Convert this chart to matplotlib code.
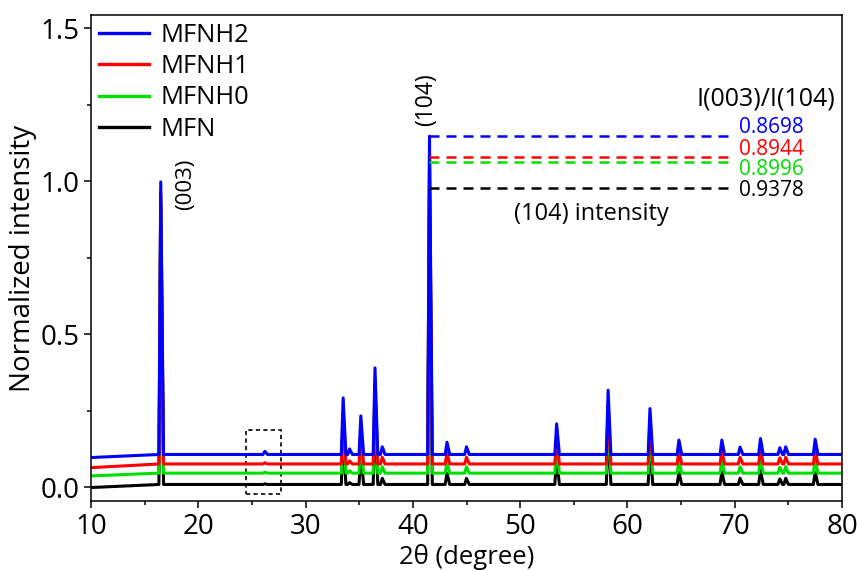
"""
XRD patterns of the MFN / MFNH samples, stacked with a small offset,
with the (104) peak tops marked and the I(003)/I(104) ratio listed.
"""

import matplotlib.pyplot as plt
from matplotlib.patches import Rectangle

plt.rcParams["font.family"] = ["Open Sans", "DejaVu Sans"]

# samples, drawn bottom to top
SERIES = ["MFN", "MFNH0", "MFNH1", "MFNH2"]
COLORS = ["#000000", "#00e000", "#ff0000", "#0000ff"]

# baseline at 2theta = 10 and the flat level from ~16 deg on
BASE_START = [-0.001, 0.037, 0.064, 0.097]
BASE_LEVEL = [0.009, 0.046, 0.076, 0.107]

# (104) peak tops and the I(003)/I(104) ratios
I104_POS = 41.55
I003_POS = 16.5
I104_TOP = [0.977, 1.062, 1.078, 1.147]
RATIO = [0.9378, 0.8996, 0.8944, 0.8698]
RATIO_LABELS = ["0.9378", "0.8996", "0.8944", "0.8698"]

# remaining reflections: position and height above the baseline
MINOR_POS = [26.2, 33.5, 34.1, 35.15, 36.47, 37.15, 43.18, 45.0, 53.4,
             58.2, 62.1, 64.8, 68.8, 70.5, 72.4, 74.2, 74.75, 77.5]
MINOR_H = {
    "MFNH2": [0.010, 0.185, 0.018, 0.126, 0.283, 0.025, 0.040, 0.025, 0.100,
              0.210, 0.150, 0.047, 0.047, 0.024, 0.052, 0.022, 0.025, 0.050],
    "MFNH1": [0.004, 0.170, 0.010, 0.115, 0.262, 0.022, 0.036, 0.022, 0.092,
              0.195, 0.138, 0.043, 0.044, 0.022, 0.048, 0.020, 0.022, 0.046],
    "MFNH0": [0.003, 0.165, 0.008, 0.112, 0.255, 0.021, 0.034, 0.021, 0.090,
              0.190, 0.134, 0.042, 0.042, 0.021, 0.047, 0.019, 0.021, 0.045],
    "MFN":   [0.002, 0.160, 0.006, 0.108, 0.248, 0.020, 0.037, 0.020, 0.088,
              0.186, 0.130, 0.040, 0.041, 0.020, 0.046, 0.018, 0.020, 0.040],
}

X_TICKS = [10, 20, 30, 40, 50, 60, 70, 80]
Y_TICKS = [0.0, 0.5, 1.0, 1.5]

LEFT_FOOT = 0.17
RIGHT_FOOT = 0.26


def pattern(i):
    """Polyline of one pattern: sloping start, then flat baseline with peaks."""
    name = SERIES[i]
    base = BASE_LEVEL[i]
    peaks = [(I003_POS, RATIO[i] * I104_TOP[i]), (I104_POS, I104_TOP[i])]
    peaks += [(p, base + h) for p, h in zip(MINOR_POS, MINOR_H[name])]
    peaks.sort()

    xs = [10.0]
    ys = [BASE_START[i]]
    for pos, top in peaks:
        xs += [pos - LEFT_FOOT, pos, pos + RIGHT_FOOT]
        ys += [base, top, base]
    xs.append(80.0)
    ys.append(base)
    return xs, ys


fig = plt.figure(figsize=(8.57, 5.71), dpi=100)
ax = fig.add_axes([0.1062, 0.1226, 0.8763, 0.8511])

for i, name in enumerate(SERIES):
    xs, ys = pattern(i)
    ax.plot(xs, ys, color=COLORS[i], lw=2.2, label=name)

# dashed guides at the (104) peak tops
for i in range(len(SERIES)):
    ax.plot([I104_POS, 69.8], [I104_TOP[i], I104_TOP[i]], color=COLORS[i],
            lw=1.8, linestyle=(0, (4, 2.8)))

label_y = [0.968, 1.037, 1.105, 1.175]
for i in range(len(SERIES)):
    ax.text(70.4, label_y[i], RATIO_LABELS[i], color=COLORS[i], fontsize=15,
            ha="left", va="center")

ax.text(79.4, 1.268, "I(003)/I(104)", fontsize=18, ha="right", va="center")
ax.text(56.6, 0.892, "(104) intensity", fontsize=17, ha="center", va="center")
ax.text(18.8, 0.99, "(003)", fontsize=16, rotation=90, ha="center", va="center")
ax.text(41.2, 1.265, "(104)", fontsize=16.5, rotation=90, ha="center", va="center")

# weak impurity reflection
ax.add_patch(Rectangle((24.45, -0.023), 3.25, 0.209, fill=False, ec="black",
                       lw=1.2, linestyle=(0, (2.5, 2))))

ax.set_xlim(10, 80)
ax.set_ylim(-0.045, 1.543)
ax.set_xticks(X_TICKS)
ax.set_xticks(range(15, 80, 10), minor=True)
ax.set_yticks(Y_TICKS)
ax.set_yticks([0.25, 0.75, 1.25], minor=True)
ax.tick_params(which="major", direction="out", length=5, width=1.1, labelsize=20)
ax.tick_params(which="minor", direction="out", length=3, width=1.1)
for spine in ax.spines.values():
    spine.set_linewidth(1.1)

ax.set_xlabel("2θ (degree)", fontsize=18.5, labelpad=2)
ax.set_ylabel("Normalized intensity", fontsize=20, labelpad=2)

handles, labels = ax.get_legend_handles_labels()
leg = ax.legend(handles[::-1], labels[::-1], loc="upper left",
                bbox_to_anchor=(0.0, 1.0), borderaxespad=0.1, borderpad=0.2,
                frameon=False, fontsize=18.4, handlelength=1.95,
                handletextpad=0.47, labelspacing=0.25)
for line in leg.get_lines():
    line.set_linewidth(2.4)

fig.savefig("out.png", dpi=100)
